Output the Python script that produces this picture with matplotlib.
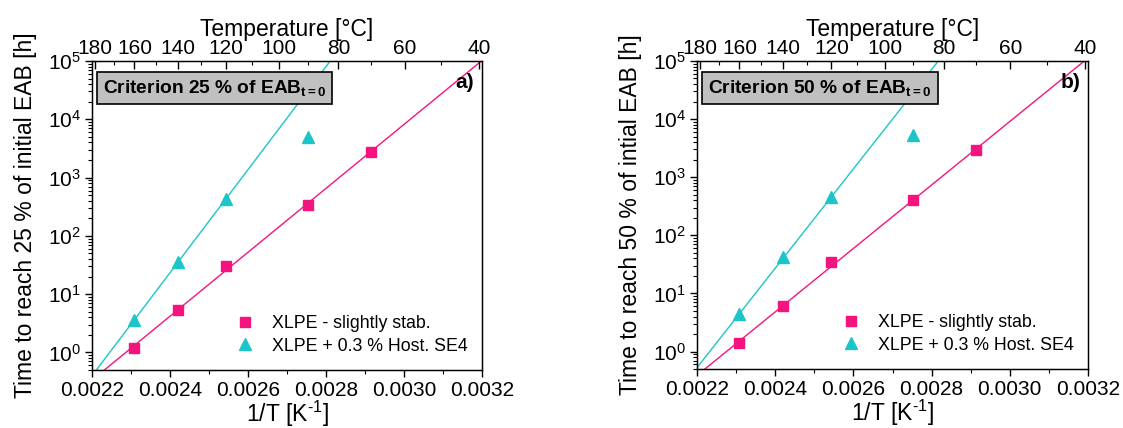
import numpy as np
import matplotlib
matplotlib.use("Agg")
import matplotlib.pyplot as plt
from matplotlib.ticker import LogLocator, LogFormatterMathtext, NullFormatter, FixedLocator

plt.rcParams['font.family'] = ['Liberation Sans', 'DejaVu Sans']
plt.rcParams['mathtext.fontset'] = 'custom'
plt.rcParams['mathtext.rm'] = 'Liberation Sans'
plt.rcParams['mathtext.it'] = 'Liberation Sans:italic'
plt.rcParams['mathtext.bf'] = 'Liberation Sans:bold'
plt.rcParams['axes.unicode_minus'] = False

# ---- data ----
temps_C = [160, 140, 120, 90, 70]            # ageing temperatures [°C]
temps_C_host = [160, 140, 120, 90]
slight_25 = [1.2, 5.4, 31, 340, 2700]         # XLPE - slightly stab., 25 % criterion
host_25 = [3.6, 36, 430, 5000]                # XLPE + 0.3 % Host. SE4, 25 % criterion
slight_50 = [1.4, 6.0, 35, 410, 2900]
host_50 = [4.4, 42, 450, 5300]
host_fit_n = 3                                # points used in Host. SE4 fit
top_major_T = [40, 60, 80, 100, 120, 140, 160, 180]
top_minor_T = [50, 70, 90, 110, 130, 150, 170]
x_ticks = [0.0022, 0.0024, 0.0026, 0.0028, 0.0030, 0.0032]
x_labels = ['0.0022', '0.0024', '0.0026', '0.0028', '0.0030', '0.0032']

PINK = '#F5147F'
CYAN = '#1CC6C8'

panels = [
    dict(slight=slight_25, host=host_25, crit='25', letter='a)',
         ylabel='Time to reach 25 % of initial EAB [h]',
         rect=[92/1123, 58/428, 390/1123, 309/428]),
    dict(slight=slight_50, host=host_50, crit='50', letter='b)',
         ylabel='Time to reach 50 % of intial EAB [h]',
         rect=[697/1123, 59/428, 391/1123, 308/428]),
]

fig = plt.figure(figsize=(11.23, 4.28), dpi=100)

def invT(tc):
    return 1.0 / (np.asarray(tc, dtype=float) + 273.15)

for p in panels:
    ax = fig.add_axes(p['rect'])
    x_s = invT(temps_C)
    x_h = invT(temps_C_host)
    xs = np.linspace(0.0021, 0.0033, 200)
    # fits
    cs = np.polyfit(x_s, np.log10(p['slight']), 1)
    ch = np.polyfit(x_h[:host_fit_n], np.log10(p['host'][:host_fit_n]), 1)
    ax.plot(xs, 10**np.polyval(cs, xs), color=PINK, lw=1.0, zorder=2)
    ax.plot(xs, 10**np.polyval(ch, xs), color=CYAN, lw=1.0, zorder=2)
    ax.plot(x_s, p['slight'], 's', color=PINK, ms=7.5, ls='none',
            label='XLPE - slightly stab.', zorder=3)
    ax.plot(x_h, p['host'], '^', color=CYAN, ms=9, ls='none',
            label='XLPE + 0.3 % Host. SE4', zorder=3)
    ax.set_yscale('log')
    ax.set_xlim(0.0022, 0.0032)
    ax.set_ylim(0.5, 1e5)
    ax.set_xticks(x_ticks)
    ax.set_xticklabels(x_labels)
    ax.xaxis.set_minor_locator(FixedLocator([0.0023, 0.0025, 0.0027, 0.0029, 0.0031]))
    ax.yaxis.set_major_locator(LogLocator(base=10, numticks=10))
    ax.yaxis.set_major_formatter(LogFormatterMathtext())
    ax.yaxis.set_minor_locator(LogLocator(base=10, subs=np.arange(2, 10), numticks=20))
    ax.yaxis.set_minor_formatter(NullFormatter())
    ax.tick_params(axis='both', which='major', labelsize=15, direction='out',
                   length=5, width=1.0, pad=3)
    ax.tick_params(axis='both', which='minor', direction='out', length=3, width=0.8)
    ax.tick_params(axis='y', which='both', right=False)
    ax.set_xlabel(r'1/T [K$^{\text{-1}}$]', fontsize=16.5, labelpad=-1)
    ax.set_ylabel(p['ylabel'], fontsize=16.5, labelpad=8)
    for s in ax.spines.values():
        s.set_linewidth(1.0)

    ax2 = ax.twiny()
    ax2.set_xlim(ax.get_xlim())
    ax2.set_xticks(invT(top_major_T))
    ax2.set_xticklabels([str(t) for t in top_major_T])
    ax2.set_xticks(invT(top_minor_T), minor=True)
    ax2.tick_params(axis='x', which='major', labelsize=15, direction='in',
                    length=6, width=1.0, pad=2)
    ax2.tick_params(axis='x', which='minor', direction='in', length=3, width=0.8)
    ax2.set_xlabel('Temperature [°C]', fontsize=16.5, labelpad=2)

    ax.text(0.028, 0.945, 'Criterion ' + p['crit'] + r' % of EAB$_{\mathbf{t=0}}$',
            transform=ax.transAxes, fontsize=13.8, fontweight='bold',
            ha='left', va='top',
            bbox=dict(boxstyle='square,pad=0.32', facecolor='#C0C0C0',
                      edgecolor='black', linewidth=1.2))
    ax.text(0.98, 0.93, p['letter'], transform=ax.transAxes, fontsize=15,
            fontweight='bold', ha='right', va='center')
    ax.legend(loc='lower right', bbox_to_anchor=(0.99, 0.015), frameon=False,
              fontsize=12.8, handlelength=1.0, handletextpad=1.0,
              labelspacing=0.3, borderaxespad=0.2)

fig.savefig('out.png', dpi=100)
